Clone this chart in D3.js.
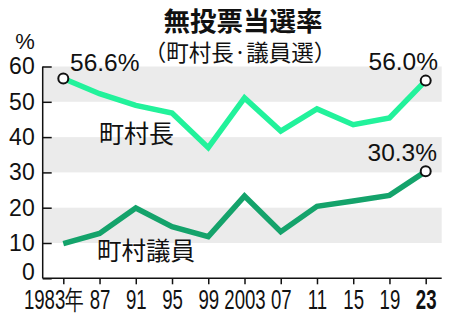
<!DOCTYPE html>
<html>
<head>
<meta charset="utf-8">
<script src="https://cdn.jsdelivr.net/npm/d3@7"></script>
<style>
  body { margin: 0; background: #fff; }
  text { font-family: "Liberation Sans", Arial, sans-serif; fill: #111; }
  .jp { font-family: "Noto Sans CJK JP", sans-serif; }
</style>
</head>
<body>
<div id="chart"></div>
<script>
// data
const years = [1983, 1987, 1991, 1995, 1999, 2003, 2007, 2011, 2015, 2019, 2023];
const yearLabels = ['1983年', '87', '91', '95', '99', '2003', '07', '11', '15', '19', '23'];
const chouson = [56.6, 52.3, 49.0, 46.8, 37.0, 51.1, 41.7, 48.0, 43.5, 45.4, 56.0];
const giin = [9.8, 12.7, 19.9, 14.6, 11.8, 23.3, 13.2, 20.4, 21.9, 23.5, 30.3];
const yTicks = [0, 10, 20, 30, 40, 50, 60];
const bands = [[50, 60], [30, 40], [10, 20]];

// measures
const width = 450, height = 325;
const plotLeft = 42.7, plotRight = 441.7;

// colors
const lightGreen = '#22f29b';
const darkGreen = '#14a36b';
const bandColor = '#ebebeb';

const svg = d3.select('#chart').append('svg')
    .attr('width', width)
    .attr('height', height);

const x = d3.scaleLinear().domain([1983, 2023]).range([63.3, 425.7]);
const y = d3.scaleLinear().domain([0, 60]).range([278.3, 66.5]);

// gray bands
svg.selectAll('rect.band').data(bands).join('rect')
    .attr('class', 'band')
    .attr('x', plotLeft)
    .attr('y', d => y(d[1]))
    .attr('width', plotRight - plotLeft)
    .attr('height', d => y(d[0]) - y(d[1]))
    .attr('fill', bandColor);

// title
svg.append('text').attr('class', 'jp')
    .attr('x', 243).attr('y', 31)
    .attr('text-anchor', 'middle')
    .attr('font-size', 26.5).attr('font-weight', 'bold')
    .text('無投票当選率');
svg.append('text').attr('class', 'jp')
    .attr('x', 240).attr('y', 61)
    .attr('text-anchor', 'middle')
    .style('font-size', '22.5px')
    .text('（町村長·議員選）');

// y axis
const yAxis = svg.append('g')
    .attr('transform', `translate(${plotLeft},0)`)
    .call(d3.axisLeft(y).tickValues(yTicks).tickSize(-9).tickSizeOuter(0).tickPadding(8));
yAxis.select('.domain').remove();
yAxis.selectAll('line').attr('stroke', '#111').attr('stroke-width', 1.5);
yAxis.selectAll('text').attr('font-size', 23).attr('fill', '#111')
    .attr('font-family', '"Liberation Sans", Arial, sans-serif');
// the zero label sits a little higher than its tick
yAxis.selectAll('text').filter(d => d === 0).attr('dy', '0.05em');
svg.append('line')
    .attr('x1', plotLeft).attr('x2', plotLeft)
    .attr('y1', y(60)).attr('y2', y(0))
    .attr('stroke', '#111').attr('stroke-width', 1.5);

svg.append('text')
    .attr('x', 25).attr('y', 49)
    .attr('text-anchor', 'middle')
    .attr('font-size', 22)
    .text('%');

// x axis
const xScaleX = 0.69;
const xAxis = svg.append('g')
    .attr('transform', `translate(0,${y(0)})`)
    .call(d3.axisBottom(x).tickValues(years).tickSize(6).tickSizeOuter(0)
        .tickFormat((d, i) => yearLabels[i]));
xAxis.select('.domain').remove();
xAxis.selectAll('line').attr('stroke', '#111').attr('stroke-width', 1.5);
xAxis.selectAll('text')
    .attr('font-size', 27)
    .attr('font-family', '"Liberation Sans", Arial, sans-serif')
    .attr('fill', '#111')
    .attr('y', 31).attr('dy', 0)
    .attr('transform', `scale(${xScaleX},1)`)
    .attr('font-weight', (d, i) => i === years.length - 1 ? 'bold' : 'normal');
xAxis.selectAll('text').filter((d, i) => i === 0)
    .attr('text-anchor', 'end')
    .attr('x', 20 / xScaleX);
svg.append('line')
    .attr('x1', plotLeft).attr('x2', plotRight)
    .attr('y1', y(0)).attr('y2', y(0))
    .attr('stroke', '#111').attr('stroke-width', 1.5);

// lines
const line = d3.line()
    .x((d, i) => x(years[i]))
    .y(d => y(d));

svg.append('path')
    .datum(giin)
    .attr('d', line)
    .attr('fill', 'none')
    .attr('stroke', darkGreen)
    .attr('stroke-width', 5.5)
    .attr('stroke-linejoin', 'miter');

svg.append('path')
    .datum(chouson)
    .attr('d', line)
    .attr('fill', 'none')
    .attr('stroke', lightGreen)
    .attr('stroke-width', 5.5)
    .attr('stroke-linejoin', 'miter');

// end markers
const last = years.length - 1;
const markers = [
    {year: years[0], value: chouson[0]},
    {year: years[last], value: chouson[last]},
    {year: years[last], value: giin[last]}
];
svg.selectAll('circle.marker').data(markers).join('circle')
    .attr('class', 'marker')
    .attr('cx', d => x(d.year))
    .attr('cy', d => y(d.value))
    .attr('r', 5)
    .attr('fill', '#fff')
    .attr('stroke', '#111')
    .attr('stroke-width', 2);

// value labels
svg.append('text')
    .attr('x', 70).attr('y', 71)
    .attr('font-size', 24.5)
    .text(chouson[0].toFixed(1) + '%');
svg.append('text')
    .attr('x', 438).attr('y', 70)
    .attr('text-anchor', 'end')
    .attr('font-size', 24.5)
    .text(chouson[last].toFixed(1) + '%');
svg.append('text')
    .attr('x', 437).attr('y', 161)
    .attr('text-anchor', 'end')
    .attr('font-size', 24.5)
    .text(giin[last].toFixed(1) + '%');

// series labels
svg.append('text').attr('class', 'jp')
    .attr('x', 99).attr('y', 143)
    .attr('font-size', 25)
    .text('町村長');
svg.append('text').attr('class', 'jp')
    .attr('x', 97).attr('y', 260)
    .attr('font-size', 24.5)
    .text('町村議員');
</script>
</body>
</html>
